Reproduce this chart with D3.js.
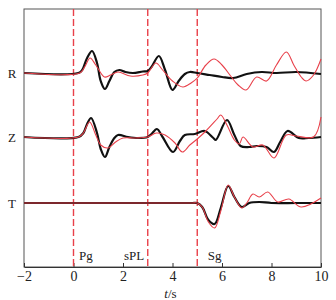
<!DOCTYPE html>
<html>
<head>
<meta charset="utf-8">
<script src="https://cdn.jsdelivr.net/npm/d3@7"></script>
<style>
  body { margin: 0; background: #fff; }
  svg text { font-family: "Liberation Serif", "DejaVu Serif", serif; fill: #222; }
</style>
</head>
<body>
<div id="chart"></div>
<script>
// time axis ticks
const xTicks = [-2, 0, 2, 4, 6, 8, 10];

// phase picks (s)
const phaseNames = ["Pg", "sPL", "Sg"];
const phaseTimes = [0, 3, 5];

// component names, top to bottom
const components = ["R", "Z", "T"];

// waveforms, [t, amplitude] knots
const blackR = [[-2,0],[0.2,0],[0.35,3],[0.55,15],[0.75,22],[0.95,10],[1.1,-8],[1.27,-16],[1.45,-8],[1.65,1],[1.85,3],[2.1,1],[2.4,0],[2.8,1.5],[3.0,2],[3.15,6],[3.45,17],[3.7,3],[4.0,-17],[4.25,-8],[4.5,-1],[4.7,1],[5.0,0],[5.5,-2],[6.0,-4],[6.45,-5],[7.0,-1],[7.6,1],[8.2,0],[9.0,1],[10,-1]];
const redR = [[-2,0],[0.25,0],[0.45,6],[0.67,15],[0.9,8],[1.25,-4],[1.5,-2],[1.8,1],[2.3,-3],[2.8,-2],[3.0,0],[3.33,10],[3.6,3],[4.0,-8],[4.42,-14],[4.75,-10],[5.0,-5],[5.35,8],[5.68,14],[6.0,8],[6.35,-3],[6.65,-12],[6.97,-17],[7.4,-4],[7.8,-8],[8.2,8],[8.6,21],[8.9,8],[9.2,-4],[9.4,-8],[9.7,-2],[10,14]];
const blackZ = [[-2,0],[0.2,0],[0.4,4],[0.55,13],[0.71,19],[0.95,4],[1.1,-12],[1.27,-20],[1.45,-10],[1.65,-1],[1.8,2],[2.2,0],[2.6,-1],[3.0,0],[3.15,3],[3.37,8],[3.6,0],[4.02,-15],[4.3,-4],[4.5,2],[4.9,3],[5.3,6],[5.65,-1],[5.75,-3],[6.2,17],[6.5,2],[6.75,-9],[7.1,-10],[7.4,-9],[7.8,-10],[8.1,-15],[8.35,-5],[8.65,6],[9.1,-1],[9.5,-1],[10,0]];
const redZ = [[-2,0],[0.2,0],[0.4,4],[0.65,15],[0.9,2],[1.1,-8],[1.4,-11],[1.7,-5],[2.0,-1],[2.5,-1],[3.0,0],[3.35,4],[3.7,2],[4.1,-6],[4.4,-15],[4.7,-8],[5.0,-2],[5.35,6],[5.8,18],[5.95,22],[6.2,12],[6.5,-3],[6.7,-7],[6.85,0],[7.25,-10],[7.65,-8],[8.1,-21],[8.6,2],[9.0,1],[9.7,0],[10,20]];
const blackT = [[-2,0],[0,0],[2,0],[4,0],[4.8,0],[5.0,0],[5.2,-4],[5.45,-17],[5.7,-21],[5.95,-5],[6.25,17],[6.5,6],[6.8,-4],[7.1,0],[7.5,1],[8.0,0],[9.0,0],[10,0]];
const redT = [[-2,0],[0,0],[2,0],[4,0],[4.8,0],[5.0,0],[5.2,-4],[5.45,-19],[5.7,-25],[5.95,-8],[6.25,18],[6.5,6],[6.8,-5],[7.0,0],[7.25,9],[7.5,6],[7.85,11],[8.25,1],[8.7,4],[9.2,-4],[10,5]];

const blackTraces = [blackR, blackZ, blackT];
const redTraces = [redR, redZ, redT];

const serif = "'Liberation Serif', 'DejaVu Serif', serif";
const red = "#e8404a";

const margin = {top: 9, right: 15, bottom: 33, left: 24},
    width = 336 - margin.left - margin.right,
    height = 300 - margin.top - margin.bottom;

const svg = d3.select("#chart")
  .append("svg")
    .attr("width", 336)
    .attr("height", 300)
    .attr("font-family", serif)
  .append("g")
    .attr("transform", "translate(" + margin.left + "," + margin.top + ")");

const x = d3.scaleLinear().domain([-2, 10]).range([0, width]);

// trace baselines
const baseY = {R: 64, Z: 128, T: 194};

// frame
svg.append("rect")
  .attr("width", width).attr("height", height)
  .attr("fill", "none").attr("stroke", "#555").attr("stroke-width", 1);

// x axis, inward ticks
const xAxis = svg.append("g")
  .attr("transform", "translate(0," + height + ")")
  .call(d3.axisBottom(x).tickValues(xTicks).tickSizeInner(-4).tickSizeOuter(0).tickPadding(4)
    .tickFormat(d => d < 0 ? "\u2212" + Math.abs(d) : d));
xAxis.attr("font-family", serif).attr("font-size", 14);
xAxis.select(".domain").attr("stroke", "#333");
xAxis.selectAll(".tick line").attr("stroke", "#333");
xAxis.selectAll("text").attr("fill", "#222");

const xl = svg.append("text")
  .attr("x", x(4) - 2).attr("y", height + 31)
  .attr("text-anchor", "middle").attr("font-size", 13);
xl.append("tspan").attr("font-style", "italic").text("t");
xl.append("tspan").text("/s");

// phase markers
svg.selectAll(".phase")
  .data(phaseTimes)
  .enter().append("line")
    .attr("x1", d => x(d)).attr("x2", d => x(d))
    .attr("y1", 0).attr("y2", height)
    .attr("stroke", red).attr("stroke-width", 1.4)
    .attr("stroke-dasharray", "7,3");

const labelOffset = [0.5, -0.55, 0.7];
svg.selectAll(".plabel")
  .data(phaseNames)
  .enter().append("text")
    .attr("x", (d, i) => x(phaseTimes[i] + labelOffset[i]))
    .attr("y", height - 7)
    .attr("text-anchor", "middle")
    .attr("font-size", 13)
    .text(d => d);

// component labels
svg.selectAll(".clabel")
  .data(components)
  .enter().append("text")
    .attr("x", -12).attr("y", d => baseY[d])
    .attr("dy", "0.35em")
    .attr("text-anchor", "middle")
    .attr("font-size", 13)
    .text(d => d);

// waveforms
components.forEach(function(c, i) {
  const y = d3.scaleLinear().domain([-40, 40]).range([baseY[c] + 40, baseY[c] - 40]);
  const line = d3.line()
    .x(d => x(d[0]))
    .y(d => y(d[1]))
    .curve(d3.curveCatmullRom.alpha(0.5));
  svg.append("path")
    .datum(blackTraces[i])
    .attr("d", line)
    .attr("fill", "none").attr("stroke", "#111").attr("stroke-width", 2.2);
  svg.append("path")
    .datum(redTraces[i])
    .attr("d", line)
    .attr("fill", "none").attr("stroke", red).attr("stroke-width", 1.1);
});
</script>
</body>
</html>
